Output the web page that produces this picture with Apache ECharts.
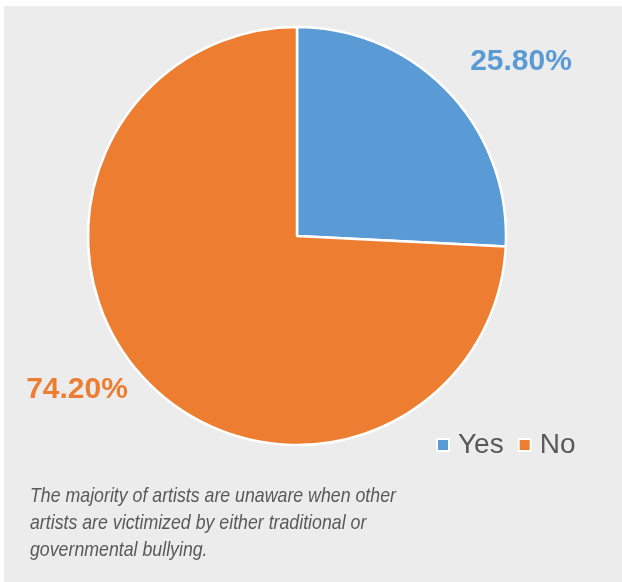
<!DOCTYPE html>
<html>
<head>
<meta charset="utf-8">
<script src="https://cdn.jsdelivr.net/npm/echarts@6/dist/echarts.min.js"></script>
<style>
  html, body { margin: 0; padding: 0; background: #ffffff; }
  #chart { width: 622px; height: 582px; }
</style>
</head>
<body>
<div id="chart"></div>
<script>
// Survey answers and their shares (percent)
const categories = ['Yes', 'No'];
const shares = [25.8, 74.2];
const colors = ['#5b9bd5', '#ed7d31'];
const caption = 'The majority of artists are unaware when other\nartists are victimized by either traditional or\ngovernmental bullying.';

// Where each percentage label sits
const labelSpots = [[521, 62], [77, 390]];

const chart = echarts.init(document.getElementById('chart'), null, { renderer: 'canvas' });

chart.setOption({
  animation: false,
  backgroundColor: '#ffffff',
  graphic: [{
    type: 'rect',
    left: 4, top: 6, z: -10,
    shape: { width: 618, height: 576 },
    style: { fill: '#ececec' },
    silent: true
  }, {
    // condensed italic caption under the pie
    type: 'text',
    x: 30, y: 483,
    scaleX: 0.845,
    style: {
      text: caption,
      font: 'italic 21px "Liberation Sans"',
      lineHeight: 27,
      fill: '#595959'
    },
    silent: true
  }],
  legend: {
    data: categories,
    left: 431, top: 426,
    icon: 'rect',
    itemWidth: 12, itemHeight: 12,
    itemGap: 14,
    textStyle: { fontFamily: 'Liberation Sans', fontSize: 28, color: '#595959', padding: [0, 0, 0, 4] }
  },
  series: [{
    type: 'pie',
    center: [297, 236],
    radius: 209,
    startAngle: 90,
    clockwise: true,
    itemStyle: { borderColor: '#ffffff', borderWidth: 2.5 },
    label: {
      show: true,
      position: 'outside',
      overflow: 'none',
      formatter: p => p.value.toFixed(2) + '%',
      fontFamily: 'Liberation Sans',
      fontWeight: 'bold',
      fontSize: 30
    },
    labelLine: { show: false },
    labelLayout: params => ({
      x: labelSpots[params.dataIndex][0],
      y: labelSpots[params.dataIndex][1],
      align: 'center',
      verticalAlign: 'middle',
      width: 140
    }),
    data: categories.map((name, i) => ({
      name: name,
      value: shares[i],
      itemStyle: { color: colors[i] },
      label: { color: colors[i] }
    }))
  }]
});
</script>
</body>
</html>
